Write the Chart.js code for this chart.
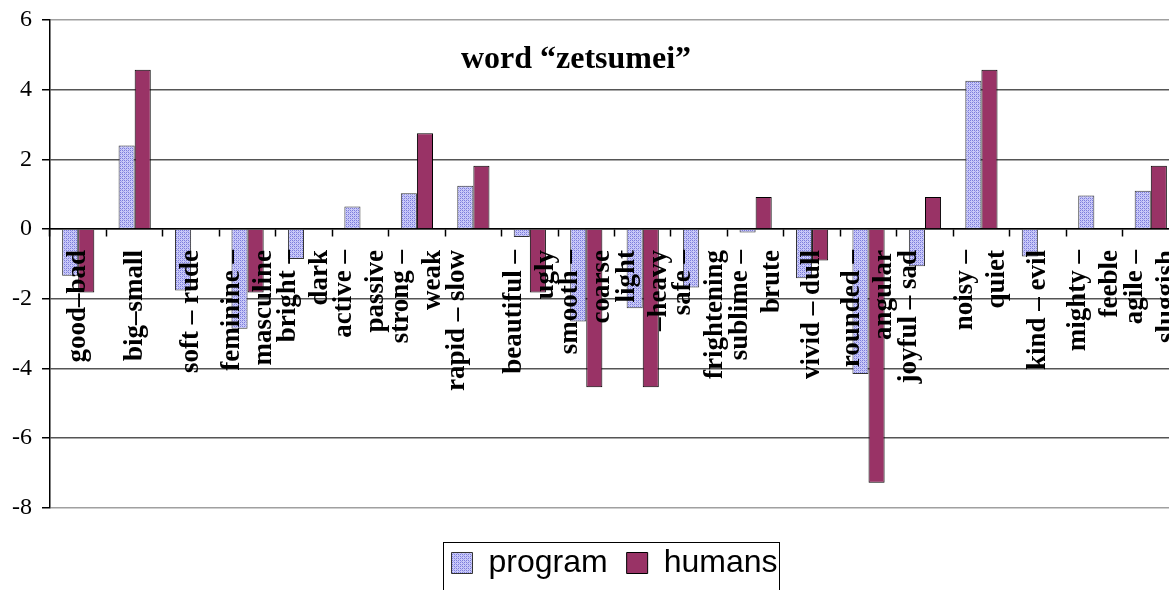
<!DOCTYPE html>
<html>
<head>
<meta charset="utf-8">
<script src="https://cdn.jsdelivr.net/npm/chart.js@4"></script>
<style>
  body { margin: 0; overflow: hidden; background: #fff; }
  #wrap { position: relative; width: 1169px; height: 590px; overflow: hidden; }
  #box { position: absolute; left: 0; top: 0; width: 1180px; height: 600px; }
  #title {
    position: absolute; left: 0; top: 39px; width: 1152px; text-align: center;
    font: bold 32px "Liberation Serif", serif; line-height: 36px; color: #000;
  }
</style>
</head>
<body>
<div id="wrap">
  <div id="box"><canvas id="graph1"></canvas></div>
  <div id="title">word “zetsumei”</div>
</div>
<script>
// labels use blank lines so that one-line and two-line labels sit where the original puts them
const categories = [
  ["", "good–bad"], ["", "big–small"], ["", "soft – rude"], ["feminine –", "", "masculine"],
  ["bright –", "", "dark"], ["active –", "", "passive"], ["strong –", "", "weak"], ["rapid – slow"],
  ["beautiful –", "", "ugly"], ["smooth –", "", "coarse"], ["light", "", "–heavy"], ["safe –", "", "frightening"],
  ["sublime –", "", "brute"], ["", "vivid – dull"], ["rounded –", "", "angular"], ["joyful – sad"],
  ["noisy –", "", "quiet"], ["", "kind – evil"], ["mighty –", "", "feeble"], ["agile –", "", "sluggish"]
];
const programVals = [-1.34, 2.40, -1.76, -2.86, -0.86, 0.65, 1.03, 1.24, -0.23, -2.65,
                     -2.27, -1.68, -0.10, -1.41, -4.16, -1.07, 4.26, -0.79, 0.96, 1.10];
const humanVals = [-1.82, 4.57, null, -1.82, null, null, 2.75, 1.82, -1.82, -4.54,
                   -4.54, null, 0.92, -0.90, -7.28, 0.92, 4.57, null, null, 1.82];
const yMin = -8, yMax = 6, yStep = 2;

// dotted lavender fill like the original
const makePattern = () => {
    let c = document.createElement("canvas");
    c.width = 4; c.height = 4;
    let g = c.getContext("2d");
    g.fillStyle = "#cacaf8";
    g.fillRect(0, 0, 4, 4);
    g.fillStyle = "#7c7cdc";
    g.fillRect(0, 0, 1, 1); g.fillRect(2, 2, 1, 1);
    g.fillRect(2, 0, 1, 1); g.fillRect(0, 2, 1, 1);
    g.fillStyle = "#a4a4ec";
    g.fillRect(1, 1, 1, 1); g.fillRect(3, 3, 1, 1);
    return g.createPattern(c, "repeat");
}

const legendFrame = {
    id: "legendFrame",
    afterDraw(chart) {
        let lg = chart.legend;
        if (!lg || !lg.legendHitBoxes.length) return;
        let hb = lg.legendHitBoxes;
        let left = Math.min(...hb.map(h => h.left)) - 8;
        let right = Math.max(...hb.map(h => h.left + h.width)) + 2;
        let mid = hb[0].top + hb[0].height / 2;
        let ctx = chart.ctx;
        ctx.save();
        ctx.strokeStyle = "#000";
        ctx.lineWidth = 1;
        ctx.strokeRect(Math.round(left) + 0.5, Math.round(mid - 21) + 0.5, right - left, 70);
        ctx.restore();
    }
};

var zetsumeiChart = new Chart(document.getElementById("graph1").getContext("2d"), {
    type: "bar",
    data: {
        labels: categories,
        datasets: [{
            label: "program",
            data: programVals,
            backgroundColor: makePattern(),
            borderColor: "#333",
            borderWidth: 1
        }, {
            label: "humans",
            data: humanVals,
            backgroundColor: "#993366",
            borderColor: "#000",
            borderWidth: 1
        }]
    },
    options: {
        responsive: true,
        maintainAspectRatio: false,
        animation: false,
        layout: { padding: { top: 20, right: 1, bottom: 11, left: 2 } },
        datasets: { bar: { barPercentage: 1, categoryPercentage: 0.57 } },
        scales: {
            x: {
                position: { y: 0 },
                afterFit: (s) => { s.paddingLeft = 0; s.paddingRight = 0; },
                grid: { drawOnChartArea: false, drawTicks: true, tickLength: 7, tickColor: "#000", tickWidth: 1.5 },
                border: { color: "#000", width: 1.5 },
                ticks: {
                    autoSkip: false, minRotation: 90, maxRotation: 90,
                    labelOffset: -16, padding: 14, z: 1, color: "#000",
                    font: { family: "Liberation Serif", weight: "bold", size: 27, lineHeight: "16px" }
                }
            },
            y: {
                min: yMin, max: yMax,
                afterFit: (s) => { s.paddingTop = 0; s.paddingBottom = 0; },
                ticks: { stepSize: yStep, color: "#000", padding: 10,
                         font: { family: "Liberation Serif", size: 24 } },
                grid: {
                    color: (c) => (c.tick && (c.tick.value === yMax || c.tick.value === yMin)) ? "#a0a0a0" : "#555",
                    lineWidth: 1.5, tickLength: 8, tickColor: "#000"
                },
                border: { color: "#000", width: 1.5 }
            }
        },
        plugins: {
            legend: {
                position: "bottom",
                fullSize: false,
                title: { display: true, text: " ", font: { size: 1 }, padding: { top: 19, bottom: 0 } },
                labels: {
                    color: "#000", boxWidth: 21, boxHeight: 21, padding: 19,
                    font: { family: "Liberation Sans", size: 32 }
                }
            },
            tooltip: { enabled: false }
        }
    },
    plugins: [legendFrame]
});
</script>
</body>
</html>
